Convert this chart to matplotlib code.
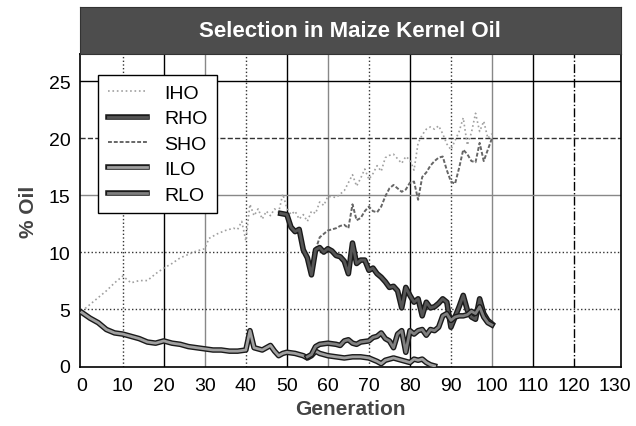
import matplotlib.pyplot as plt
import matplotlib.patheffects as pe

# Illinois High Oil
iho_gen = [0, 2, 4, 6, 8, 10, 12, 14, 16, 18, 20, 22, 24, 26, 28, 30, 31, 33, 35, 37, 38, 39,
           40, 41, 42, 43, 44, 45, 46, 47, 48, 49, 50, 51, 52, 53, 54, 55, 56, 57, 58, 59, 60,
           62, 64, 66, 67, 68, 69, 70, 71, 72, 73, 74, 75, 76, 77, 78, 79, 80, 81, 82, 83, 84,
           85, 86, 87, 88, 89, 90, 91, 92, 93, 94, 95, 96, 97, 98, 99, 100]
iho_oil = [4.8, 5.4, 6.0, 6.6, 7.3, 7.9, 7.3, 7.5, 7.5, 8.1, 8.6, 9.0, 9.5, 9.8, 10.1, 10.3, 11.2,
           11.6, 11.9, 12.1, 12.0, 12.7, 11.0, 14.2, 13.2, 13.8, 12.9, 13.6, 13.2, 13.8, 13.5,
           15.1, 13.9, 13.3, 13.6, 12.9, 13.3, 12.7, 13.6, 13.4, 14.4, 14.1, 14.9, 14.8, 15.4,
           16.8, 15.8, 16.5, 17.3, 16.4, 16.9, 17.6, 17.1, 18.3, 18.5, 18.6, 18.2, 17.8, 18.4,
           18.1, 17.2, 19.6, 20.3, 20.8, 21.0, 20.8, 21.1, 20.4, 19.5, 19.0, 19.8, 20.6, 21.8,
           19.4, 20.5, 22.2, 20.6, 21.5, 20.0, 20.4]

# Reverse High Oil
rho_gen = [48.5, 50, 51, 52, 53, 54, 55, 56, 57, 58, 59, 60, 61, 62, 63, 64, 65, 66, 67, 68, 69,
           70, 71, 72, 73, 74, 75, 76, 77, 78, 79, 80, 81, 82, 83, 84, 85, 86, 87, 88, 89, 90,
           91, 92, 93, 94, 95, 96, 97, 98, 99, 100]
rho_oil = [13.4, 13.3, 12.2, 11.8, 12.0, 10.2, 9.5, 8.0, 10.2, 10.4, 10.0, 10.3, 10.1, 9.7, 9.6,
           9.2, 8.1, 10.8, 9.0, 9.3, 9.3, 8.4, 8.6, 8.1, 7.8, 7.4, 6.9, 7.0, 6.6, 5.1, 6.9, 6.2,
           5.6, 5.9, 4.4, 5.6, 5.1, 5.2, 5.5, 5.9, 5.6, 3.4, 4.3, 5.2, 6.2, 4.9, 4.3, 4.1, 5.9,
           4.6, 4.0, 3.7]

# Switchback High Oil
sho_gen = [57, 58, 59, 60, 61, 62, 63, 64, 65, 66, 67, 68, 69, 70, 71, 72, 73, 74, 75, 76, 77,
           78, 79, 80, 81, 82, 83, 84, 85, 86, 87, 88, 89, 90, 91, 92, 93, 94, 95, 96, 97, 98,
           99, 100]
sho_oil = [10.2, 11.3, 11.6, 11.9, 12.0, 12.1, 12.3, 12.4, 12.1, 14.2, 12.8, 13.0, 13.6, 14.0,
           13.6, 13.5, 14.0, 14.9, 15.6, 15.9, 15.6, 15.3, 15.5, 16.1, 16.2, 14.6, 16.6, 17.0,
           17.6, 18.0, 18.3, 18.4, 17.2, 16.2, 16.0, 17.4, 19.0, 18.6, 18.0, 17.9, 19.6, 18.0,
           19.0, 20.0]

# Illinois Low Oil
ilo_gen = [0, 2, 4, 6, 8, 10, 12, 14, 16, 18, 20, 22, 24, 26, 28, 30, 32, 34, 36, 38, 40, 41,
           42, 43, 44, 45, 46, 47, 48, 49, 50, 52, 54, 55, 56, 57, 58, 60, 62, 64, 66, 68, 70,
           72, 73, 74, 76, 78, 80, 81, 82, 83, 84, 85, 86]
ilo_oil = [4.7, 4.2, 3.8, 3.2, 2.9, 2.8, 2.6, 2.4, 2.1, 2.0, 2.2, 2.0, 1.9, 1.7, 1.6, 1.5, 1.4,
           1.4, 1.3, 1.3, 1.4, 3.1, 1.6, 1.5, 1.4, 1.6, 1.8, 1.3, 0.9, 1.1, 1.2, 1.1, 0.9, 0.7,
           0.9, 1.3, 1.1, 0.9, 0.8, 0.7, 0.8, 0.8, 0.7, 0.4, 0.2, 0.5, 0.7, 0.5, 0.3, 0.6, 0.5,
           0.6, 0.3, 0.1, 0.0]

# Reverse Low Oil
rlo_gen = [55, 56, 57, 58, 60, 62, 63, 64, 65, 66, 67, 68, 70, 71, 72, 73, 74, 75, 76, 77, 78,
           79, 80, 81, 82, 83, 84, 85, 86, 87, 88, 89, 90, 91, 92, 93, 94, 95, 96, 97, 98, 99,
           100]
rlo_oil = [0.8, 1.0, 1.7, 1.9, 2.0, 1.9, 1.8, 2.2, 2.3, 2.0, 1.9, 2.1, 2.2, 2.5, 2.6, 2.9, 2.4,
           2.2, 1.6, 2.8, 3.1, 1.2, 3.1, 2.8, 3.1, 3.2, 2.7, 3.2, 3.1, 3.4, 4.4, 4.6, 4.0, 4.3,
           4.4, 4.4, 4.5, 4.8, 4.6, 5.2, 4.3, 3.8, 3.6]

x_ticks = list(range(0, 131, 10))
y_ticks = [0, 5, 10, 15, 20, 25]

font = ['Liberation Sans', 'DejaVu Sans']


def main():
    fig = plt.figure(figsize=(6.36, 4.27), dpi=100)
    ax = fig.add_axes([0.126, 0.138, 0.850, 0.733])

    # grid, drawn with mixed styles like the scan
    v_styles = {10: ('#333', ':'), 20: ('black', '-'), 30: ('#888', '-'), 40: ('#333', ':'),
                50: ('black', '-'), 60: ('#888', '-'), 70: ('#333', ':'), 80: ('black', '-'),
                90: ('#333', ':'), 100: ('#888', '-'), 110: ('black', '-'), 120: ('black', '-.')}
    for g, (c, ls) in v_styles.items():
        ax.axvline(g, color=c, ls=ls, lw=1, zorder=1)
    h_styles = {5: ('#333', ':'), 10: ('#333', ':'), 15: ('#888', '-'), 20: ('#333', '--'),
                25: ('black', '-')}
    for v, (c, ls) in h_styles.items():
        ax.axhline(v, color=c, ls=ls, lw=1, zorder=1)

    outline = [pe.Stroke(linewidth=4, foreground='#1a1a1a'), pe.Normal()]
    ax.plot(iho_gen, iho_oil, color='#a0a0a0', ls=':', lw=1.2, label='IHO', zorder=3)
    ax.plot(rho_gen, rho_oil, color='#555555', lw=2, label='RHO', zorder=4,
            path_effects=outline)
    ax.plot(sho_gen, sho_oil, color='#666666', ls=(0, (2, 1)), lw=1.4, label='SHO', zorder=3)
    ax.plot(ilo_gen, ilo_oil, color='#a0a0a0', lw=2, label='ILO', zorder=4,
            path_effects=outline)
    ax.plot(rlo_gen, rlo_oil, color='#808080', lw=2, label='RLO', zorder=4,
            path_effects=outline)

    ax.set_xlim(-0.4, 131.4)
    ax.set_ylim(-0.1, 27.4)
    ax.set_xticks(x_ticks)
    ax.set_yticks(y_ticks)
    ax.tick_params(length=0, pad=7, labelsize=14)
    for lab in ax.get_xticklabels() + ax.get_yticklabels():
        lab.set_family(font)
    for s in ax.spines.values():
        s.set_color('black')
        s.set_linewidth(1.2)

    ax.set_xlabel('Generation', fontsize=15, fontweight='bold', color='#444444',
                  family=font, labelpad=4)
    ax.set_ylabel('% Oil', fontsize=15, fontweight='bold', color='#444444',
                  family=font, labelpad=8)

    leg = ax.legend(loc='upper left', bbox_to_anchor=(0.015, 0.965),
                    handlelength=2.0, handletextpad=0.9, labelspacing=0.4,
                    fancybox=False, framealpha=1, edgecolor='black', borderpad=0.5,
                    prop={'family': font, 'size': 14})
    leg.get_frame().set_linewidth(1)

    # title bar
    tax = fig.add_axes([0.126, 0.871, 0.850, 0.110])
    tax.set_facecolor('#4d4d4d')
    tax.set_xticks([])
    tax.set_yticks([])
    for s in tax.spines.values():
        s.set_color('#333333')
    tax.text(0.5, 0.5, 'Selection in Maize Kernel Oil', color='white', fontsize=16,
             fontweight='bold', family=font, ha='center', va='center',
             transform=tax.transAxes)

    fig.savefig('out.png', dpi=100, facecolor='white')


if __name__ == '__main__':
    main()
